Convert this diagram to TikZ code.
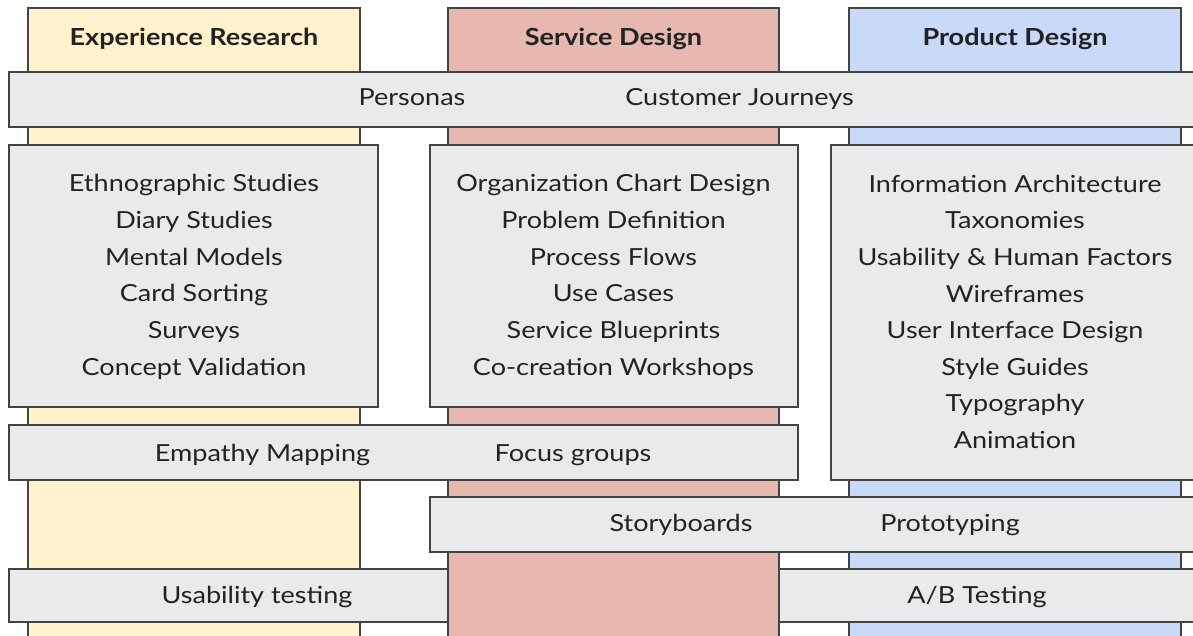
\documentclass[tikz,border=0pt]{standalone}
\usepackage{fontspec}
\setmainfont{Lato}[FakeStretch=1.15]
\definecolor{colY}{HTML}{FFF2CC}
\definecolor{colR}{HTML}{E6B8AF}
\definecolor{colB}{HTML}{C9DAF8}
\definecolor{boxG}{HTML}{E8EAEB}
\definecolor{edgeC}{HTML}{434343}
\definecolor{ink}{HTML}{222222}
\begin{document}
\begin{tikzpicture}[x=1pt,y=-1pt,
  colshape/.style={draw=edgeC,line width=1.3pt},
  barshape/.style={draw=edgeC,fill=boxG,line width=1.3pt},
  lbl/.style={font=\fontsize{23.5}{27}\selectfont,text=ink,inner sep=0pt,anchor=base},
  hdr/.style={font=\fontsize{23.5}{27}\selectfont\bfseries,text=ink,inner sep=0pt,anchor=base}]
\useasboundingbox (0,0) rectangle (1193,636);
\clip (0,0) rectangle (1193,636);
\fill[white] (0,0) rectangle (1193,636);
% columns
\draw[colshape,fill=colY] (28,8) rectangle (360,650);
\draw[colshape,fill=colR] (448,8) rectangle (779,650);
\draw[colshape,fill=colB] (849,8) rectangle (1181,650);
\node[hdr] (hER) at (194,46) {Experience Research};
\node[hdr] (hSD) at (613.5,46) {Service Design};
\node[hdr] (hPD) at (1015,46) {Product Design};
% personas bar
\draw[barshape] (9,72) rectangle (1210,127);
\node[lbl] (pers) at (412,106) {Personas};
\node[lbl] (cj) at (739.5,106) {Customer Journeys};
% boxes
\draw[barshape] (9,145) rectangle (378,407);
\draw[barshape] (430,145) rectangle (798,407);
\draw[barshape] (831,145) rectangle (1210,480);
\foreach \t [count=\i] in {Ethnographic Studies,Diary Studies,Mental Models,Card Sorting,Surveys,Concept Validation}
  \node[lbl] (er\i) at (194,{192+(\i-1)*36.6}) {\t};
\foreach \t [count=\i] in {Organization Chart Design,Problem Definition,Process Flows,Use Cases,Service Blueprints,Co-creation Workshops}
  \node[lbl] (sd\i) at (613.5,{192+(\i-1)*36.6}) {\t};
\foreach \t [count=\i] in {Information Architecture,Taxonomies,Usability \& Human Factors,Wireframes,User Interface Design,Style Guides,Typography,Animation}
  \node[lbl] (pd\i) at (1015,{192.5+(\i-1)*36.5}) {\t};
% empathy bar
\draw[barshape] (9,425) rectangle (798,480);
\node[lbl] (emp) at (262.5,461) {Empathy Mapping};
\node[lbl] (foc) at (573,461) {Focus groups};
% storyboards bar
\draw[barshape] (430,497) rectangle (1210,552);
\node[lbl] (sto) at (681,531) {Storyboards};
\node[lbl] (pro) at (950,531) {Prototyping};
% testing bars
\draw[barshape] (9,569) rectangle (448,622);
\node[lbl] (ust) at (257,603) {Usability testing};
\draw[barshape] (779,569) rectangle (1210,622);
\node[lbl] (abt) at (977,603) {A/B Testing};
\end{tikzpicture}
\end{document}
